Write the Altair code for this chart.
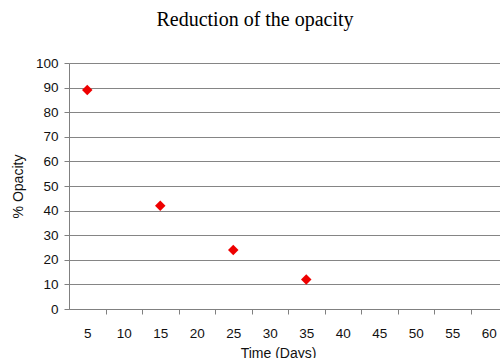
import altair as alt
import pandas as pd

days = [5, 15, 25, 35]
opacity = [89, 42, 24, 12]
x_ticks = [5, 10, 15, 20, 25, 30, 35, 40, 45, 50, 55, 60]
y_ticks = [0, 10, 20, 30, 40, 50, 60, 70, 80, 90, 100]

df = pd.DataFrame({"day": days, "opacity": opacity})

chart = alt.Chart(df).mark_point(
    shape="diamond", filled=True, color="#ee0000", size=110, opacity=1
).encode(
    x=alt.X(
        "day:Q",
        scale=alt.Scale(domain=[2.5, 61.54], nice=False, zero=False),
        axis=alt.Axis(
            values=x_ticks,
            title="Time (Days)",
            grid=False,
            tickOffset=18.25,
            labelOffset=-18.25,
            tickSize=5,
            labelPadding=12,
            labelFontSize=13.5,
            labelFont="Liberation Sans",
            labelColor="#111111",
            labelOverlap=False,
            labelBound=False,
            titleFont="Liberation Sans",
            titleFontSize=14,
            titleFontWeight="normal",
            titleColor="#111111",
            titleX=209,
            titleY=48,
            titleBaseline="alphabetic",
            titleAlign="center",
            domainColor="#808080",
            tickColor="#808080",
        ),
    ),
    y=alt.Y(
        "opacity:Q",
        scale=alt.Scale(domain=[0, 100], nice=False),
        axis=alt.Axis(
            values=y_ticks,
            title="% Opacity",
            grid=True,
            gridColor="#858585",
            gridWidth=1,
            tickSize=5,
            labelPadding=6,
            labelFontSize=13.5,
            labelFont="Liberation Sans",
            labelColor="#111111",
            titleFont="Liberation Sans",
            titleFontSize=14,
            titleFontWeight="normal",
            titleColor="#111111",
            titleAngle=270,
            titleX=-51,
            titleY=123,
            titleBaseline="middle",
            titleAlign="center",
            domainColor="#808080",
            tickColor="#808080",
        ),
    ),
).properties(
    width=431,
    height=246,
    title=alt.TitleParams(
        text="Reduction of the opacity",
        font="Liberation Serif",
        fontSize=20,
        fontWeight="normal",
        color="#000000",
        anchor="middle",
        frame="group",
        baseline="alphabetic",
        offset=10,
        dx=-29.5,
    ),
    autosize=alt.AutoSizeParams(type="none"),
    padding={"left": 69, "right": 0, "top": 63, "bottom": 49},
).configure_view(stroke=None).configure(background="white")

chart.save("out.html", embed_options={"renderer": "svg", "actions": False})
